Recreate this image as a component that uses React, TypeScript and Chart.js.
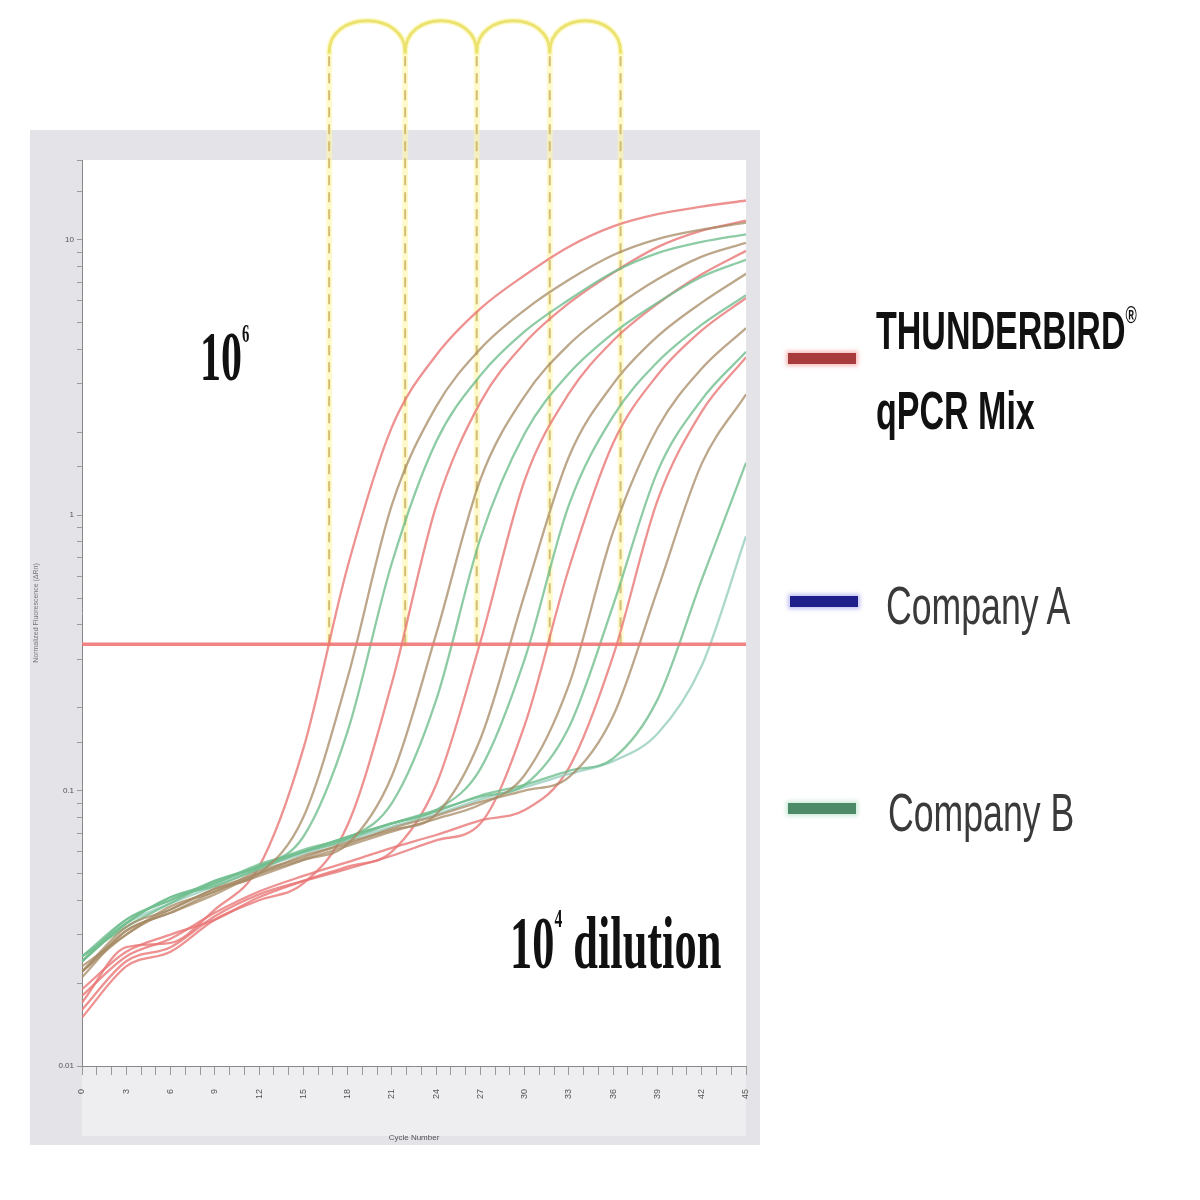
import React, { useEffect, useRef } from "react";
import { Chart, registerables } from "chart.js";

Chart.register(...registerables);

// ---------------- data ----------------
const CYCLES = [0, 3, 6, 9, 12, 15, 18, 21, 24, 27, 30, 33, 36, 39, 42, 45];
const X_MIN = 0;
const X_MAX = 45;
const X_LABEL_STEP = 3;
const Y_MIN = 0.01;
const Y_MAX = 19.5;
const THRESHOLD = 0.34;
const BRACKET_CYCLES = [16.75, 21.9, 26.75, 31.7, 36.5];
const BRACKET_TOP = 48;

// THUNDERBIRD qPCR Mix (10^6 ... 10^2)
const TB_1 = [0.017, 0.027, 0.028, 0.037, 0.053, 0.142, 0.65, 2.09, 3.81, 5.63, 7.44, 9.45, 11.2, 12.4, 13.2, 13.9];
const TB_2 = [0.015, 0.023, 0.026, 0.034, 0.04, 0.046, 0.075, 0.246, 1.08, 2.57, 4.22, 5.89, 7.6, 9.41, 10.8, 11.74];
const TB_3 = [0.019, 0.026, 0.03, 0.034, 0.041, 0.047, 0.053, 0.06, 0.105, 0.347, 1.34, 2.77, 4.31, 5.86, 7.5, 9.12];
const TB_4 = [0.016, 0.024, 0.027, 0.035, 0.042, 0.047, 0.052, 0.058, 0.066, 0.076, 0.173, 0.642, 1.83, 3.23, 4.69, 6.15];
const TB_5 = [0.018, 0.025, 0.029, 0.036, 0.043, 0.049, 0.055, 0.062, 0.069, 0.078, 0.085, 0.121, 0.309, 1.13, 2.38, 3.75];

// Company A
const CA_1 = [0.022, 0.032, 0.037, 0.044, 0.05, 0.08, 0.257, 1.09, 2.48, 4.02, 5.56, 7.16, 8.81, 10.07, 10.9, 11.56];
const CA_2 = [0.021, 0.031, 0.036, 0.043, 0.049, 0.056, 0.064, 0.113, 0.37, 1.35, 2.71, 4.17, 5.62, 7.19, 8.69, 9.75];
const CA_3 = [0.023, 0.03, 0.038, 0.043, 0.051, 0.057, 0.065, 0.072, 0.082, 0.154, 0.516, 1.63, 3.0, 4.46, 5.92, 7.53];
const CA_4 = [0.022, 0.031, 0.036, 0.042, 0.05, 0.056, 0.063, 0.071, 0.079, 0.089, 0.114, 0.242, 0.872, 2.07, 3.41, 4.78];
const CA_5 = [0.022, 0.03, 0.037, 0.044, 0.05, 0.058, 0.064, 0.073, 0.081, 0.091, 0.1, 0.112, 0.187, 0.535, 1.54, 2.75];

// Company B
const CB_1 = [0.025, 0.034, 0.04, 0.047, 0.053, 0.068, 0.164, 0.671, 1.85, 3.22, 4.65, 6.06, 7.63, 8.95, 9.83, 10.48];
const CB_2 = [0.024, 0.033, 0.041, 0.045, 0.052, 0.06, 0.067, 0.09, 0.213, 0.825, 1.98, 3.27, 4.58, 5.91, 7.35, 8.47];
const CB_3 = [0.025, 0.032, 0.039, 0.047, 0.053, 0.061, 0.067, 0.076, 0.085, 0.12, 0.3, 1.09, 2.29, 3.6, 4.92, 6.3];
const CB_4 = [0.024, 0.033, 0.041, 0.046, 0.054, 0.06, 0.068, 0.076, 0.085, 0.095, 0.105, 0.17, 0.472, 1.44, 2.63, 3.92];
const CB_5 = [0.024, 0.034, 0.04, 0.046, 0.053, 0.06, 0.068, 0.076, 0.084, 0.096, 0.105, 0.118, 0.131, 0.214, 0.584, 1.55];
const CB_6 = [0.025, 0.033, 0.039, 0.045, 0.052, 0.059, 0.066, 0.074, 0.082, 0.093, 0.103, 0.115, 0.128, 0.161, 0.284, 0.84];

const TB_SERIES = [TB_1, TB_2, TB_3, TB_4, TB_5];
const CA_SERIES = [CA_1, CA_2, CA_3, CA_4, CA_5];
const CB_SERIES = [CB_1, CB_2, CB_3, CB_4, CB_5, CB_6];

const TB_COLOR = "rgba(232,118,118,0.8)";
const CA_COLOR = "rgba(165,138,100,0.75)";
const CB_COLOR = "rgba(112,190,142,0.8)";
const CB_LIGHT = "rgba(150,206,190,0.8)";

function toPoints(arr: number[]) {
  return CYCLES.map((c, i) => ({ x: c, y: arr[i] }));
}

const framePlugin = {
  id: "frame",
  beforeDraw(chart: any) {
    const { ctx, chartArea: a } = chart;
    ctx.save();
    ctx.fillStyle = "#e3e3e8";
    ctx.fillRect(30, 130, 730, 1015);
    ctx.fillStyle = "#eeeef1";
    ctx.fillRect(a.left, a.bottom, a.right - a.left, 70);
    ctx.fillStyle = "#ffffff";
    ctx.fillRect(a.left, a.top, a.right - a.left, a.bottom - a.top);
    ctx.restore();
  },
};

const bracketPlugin = {
  id: "brackets",
  beforeDatasetsDraw(chart: any) {
    const { ctx } = chart;
    const xs = chart.scales.x;
    const ys = chart.scales.y;
    const yb = ys.getPixelForValue(THRESHOLD);
    const yt = ys.getPixelForValue(BRACKET_TOP);
    const px = BRACKET_CYCLES.map((c) => xs.getPixelForValue(c));
    const arch = () => {
      ctx.beginPath();
      for (let i = 0; i < px.length - 1; i++) {
        ctx.moveTo(px[i], yt);
        ctx.bezierCurveTo(px[i], yt - 42, px[i + 1], yt - 42, px[i + 1], yt);
      }
      ctx.stroke();
    };
    const verts = () => {
      ctx.beginPath();
      px.forEach((x) => {
        ctx.moveTo(x, yb);
        ctx.lineTo(x, yt);
      });
      ctx.stroke();
    };
    ctx.save();
    ctx.lineCap = "round";
    ctx.strokeStyle = "rgba(253,246,170,0.6)";
    ctx.lineWidth = 6;
    verts();
    arch();
    ctx.strokeStyle = "rgba(232,222,96,0.85)";
    ctx.lineWidth = 3;
    arch();
    ctx.setLineDash([10, 7]);
    ctx.lineCap = "butt";
    ctx.strokeStyle = "rgba(205,178,100,0.85)";
    ctx.lineWidth = 2;
    verts();
    ctx.restore();
  },
};

function Txt(props: {
  left: number;
  top: number;
  size: number;
  bold?: boolean;
  serif?: boolean;
  scale: number;
  color?: string;
  children: any;
}) {
  return (
    <div
      style={{
        position: "absolute",
        left: props.left,
        top: props.top,
        fontSize: props.size,
        lineHeight: "1",
        fontWeight: props.bold ? 700 : 400,
        fontFamily: props.serif ? "'Liberation Serif', 'DejaVu Serif', serif" : "'Liberation Sans', Arial, sans-serif",
        color: props.color || "#111",
        whiteSpace: "nowrap",
        transform: `scaleX(${props.scale})`,
        transformOrigin: "left top",
      }}
    >
      {props.children}
    </div>
  );
}

function Bar(props: { left: number; top: number; color: string; glow: string }) {
  return (
    <div
      style={{
        position: "absolute",
        left: props.left,
        top: props.top,
        width: 68,
        height: 11,
        background: props.color,
        boxShadow: `0 0 4px 2px ${props.glow}`,
      }}
    />
  );
}

export default function App() {
  const ref = useRef<HTMLCanvasElement | null>(null);

  useEffect(() => {
    if (!ref.current) return;
    const datasets: any[] = [
      {
        label: "Threshold",
        data: [
          { x: X_MIN, y: THRESHOLD },
          { x: X_MAX, y: THRESHOLD },
        ],
        borderColor: "rgba(238,118,118,0.9)",
        borderWidth: 3.5,
        pointRadius: 0,
        order: 0,
      },
    ];
    const add = (arr: number[], label: string, color: string) =>
      datasets.push({
        label,
        data: toPoints(arr),
        borderColor: color,
        borderWidth: 2.3,
        pointRadius: 0,
        cubicInterpolationMode: "monotone",
        order: 1,
      });
    CA_SERIES.forEach((s, i) => add(s, "Company A " + (i + 1), CA_COLOR));
    CB_SERIES.forEach((s, i) => add(s, "Company B " + (i + 1), i === 5 ? CB_LIGHT : CB_COLOR));
    TB_SERIES.forEach((s, i) => add(s, "THUNDERBIRD " + (i + 1), TB_COLOR));

    const chart = new Chart(ref.current, {
      type: "line",
      data: { datasets },
      plugins: [framePlugin, bracketPlugin],
      options: {
        animation: false,
        responsive: false,
        devicePixelRatio: 1,
        layout: { padding: { left: 30, top: 160, right: 454, bottom: 55 } },
        plugins: { legend: { display: false }, tooltip: { enabled: false } },
        scales: {
          x: {
            type: "linear",
            min: X_MIN,
            max: X_MAX,
            afterFit: (s: any) => {
              s.height = 79;
            },
            grid: { drawOnChartArea: false, tickLength: 9, color: "#9a9a9a" },
            border: { display: true, color: "#888" },
            ticks: {
              stepSize: 1,
              autoSkip: false,
              minRotation: 90,
              maxRotation: 90,
              padding: 14,
              font: { size: 9, family: "'Liberation Sans', Arial" },
              color: "#555",
              callback: (v: any) => (Number(v) % X_LABEL_STEP === 0 ? String(v) : ""),
            },
            title: { display: true, text: "Cycle Number", font: { size: 8 }, color: "#555", padding: 2 },
          },
          y: {
            type: "logarithmic",
            min: Y_MIN,
            max: Y_MAX,
            afterFit: (s: any) => {
              s.width = 52;
            },
            grid: { drawOnChartArea: false, tickLength: 5, color: "#9a9a9a" },
            border: { display: true, color: "#888" },
            ticks: {
              autoSkip: false,
              font: { size: 8, family: "'Liberation Sans', Arial" },
              color: "#555",
              callback: (v: any) => {
                const l = Math.log10(Number(v));
                return Math.abs(l - Math.round(l)) < 1e-6 ? String(Number(v)) : "";
              },
            },
            title: { display: true, text: "Normalized Fluorescence (ΔRn)", font: { size: 7 }, color: "#777", padding: 2 },
          },
        },
      } as any,
    });
    return () => chart.destroy();
  }, []);

  return (
    <div style={{ position: "absolute", left: 0, top: 0, width: 1200, height: 1200, background: "#fff", overflow: "hidden" }}>
      <canvas ref={ref} width={1200} height={1200} style={{ position: "absolute", left: 0, top: 0, width: 1200, height: 1200 }} />
      <Txt left={200} top={322} size={70} bold serif scale={0.6}>
        10<span style={{ fontSize: "0.35em", verticalAlign: "top" }}>6</span>
      </Txt>
      <Txt left={510} top={906} size={74} bold serif scale={0.6}>
        10<span style={{ fontSize: "0.35em", verticalAlign: "top" }}>4</span> dilution
      </Txt>
      <Bar left={788} top={353} color="#a83c3c" glow="rgba(245,160,160,0.7)" />
      <Txt left={876} top={303} size={54} bold scale={0.63}>
        THUNDERBIRD<span style={{ fontSize: "0.45em", verticalAlign: "top" }}>®</span>
      </Txt>
      <Txt left={876} top={383} size={54} bold scale={0.63}>
        qPCR Mix
      </Txt>
      <Bar left={790} top={596} color="#1f1f8c" glow="rgba(150,150,240,0.6)" />
      <Txt left={886} top={578} size={54} scale={0.66} color="#3a3a3a">
        Company A
      </Txt>
      <Bar left={788} top={803} color="#4d8a68" glow="rgba(170,220,190,0.6)" />
      <Txt left={888} top={785} size={54} scale={0.66} color="#3a3a3a">
        Company B
      </Txt>
    </div>
  );
}
